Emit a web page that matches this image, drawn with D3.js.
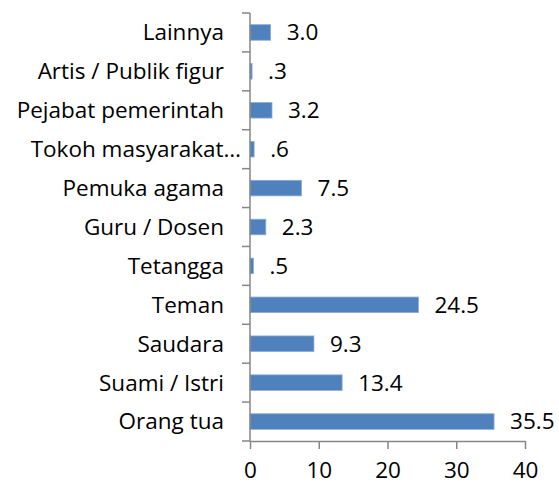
<!DOCTYPE html>
<html>
<head>
<meta charset="utf-8">
<script src="https://cdn.jsdelivr.net/npm/d3@7"></script>
<style>
  body { margin: 0; background: #fff; }
  text { font-family: "Open Sans", "Liberation Sans", sans-serif; fill: #000; }
</style>
</head>
<body>
<div id="chart"></div>
<script>
var categories = ["Lainnya", "Artis / Publik figur", "Pejabat pemerintah", "Tokoh masyarakat…",
  "Pemuka agama", "Guru / Dosen", "Tetangga", "Teman", "Saudara", "Suami / Istri", "Orang tua"];
var values = [3.0, 0.3, 3.2, 0.6, 7.5, 2.3, 0.5, 24.5, 9.3, 13.4, 35.5];
var xTicks = [0, 10, 20, 30, 40];

var width = 559, height = 486;
var plotLeft = 250, plotRight = 525, plotTop = 13, plotBottom = 441;
var fontSize = "22.5px";

var svg = d3.select("#chart").append("svg")
  .attr("width", width)
  .attr("height", height);

var x = d3.scaleLinear().domain([0, 40]).range([plotLeft, plotRight]);
var y = d3.scaleBand().domain(categories).range([plotTop, plotBottom]).padding(0);

var barH = y.bandwidth() * 0.4;
var axisColor = "#868686";

// bars
svg.selectAll("rect.bar")
  .data(values)
  .enter()
  .append("rect")
  .attr("class", "bar")
  .attr("x", x(0))
  .attr("y", function(d, i) { return y(categories[i]) + (y.bandwidth() - barH) / 2; })
  .attr("width", function(d) { return x(d) - x(0); })
  .attr("height", barH)
  .attr("fill", "#4F81BD")
  .attr("stroke", "#8EACD6")
  .attr("stroke-width", 0.8);

// value labels
function fmt(v) {
  var s = v.toFixed(1);
  if (v < 1) s = s.replace(/^0/, "");
  return s;
}
svg.selectAll("text.val")
  .data(values)
  .enter()
  .append("text")
  .attr("class", "val")
  .attr("x", function(d) { return x(d) + 16; })
  .attr("y", function(d, i) { return y(categories[i]) + y.bandwidth() / 2; })
  .attr("dy", "0.35em")
  .style("font-size", fontSize)
  .text(fmt);

// x axis
var xAxis = svg.append("g")
  .attr("transform", "translate(0," + plotBottom + ")")
  .call(d3.axisBottom(x).tickValues(xTicks).tickSize(8).tickSizeOuter(0).tickPadding(13));
xAxis.select(".domain").attr("stroke", axisColor).attr("stroke-width", 1.5);
xAxis.selectAll(".tick line").attr("stroke", axisColor).attr("stroke-width", 1.5);
xAxis.selectAll(".tick text").style("font-size", fontSize).style("font-family", "'Open Sans', sans-serif").attr("fill", "#000");

// y axis line and ticks at band boundaries
svg.append("line")
  .attr("x1", x(0)).attr("x2", x(0))
  .attr("y1", plotTop).attr("y2", plotBottom)
  .attr("stroke", axisColor).attr("stroke-width", 1.5);

var bounds = categories.map(function(c) { return y(c); }).concat([plotBottom]);
svg.selectAll("line.ytick")
  .data(bounds)
  .enter()
  .append("line")
  .attr("class", "ytick")
  .attr("x1", x(0) - 8).attr("x2", x(0))
  .attr("y1", function(d) { return d; })
  .attr("y2", function(d) { return d; })
  .attr("stroke", axisColor).attr("stroke-width", 1.5);

// category labels
svg.selectAll("text.cat")
  .data(categories)
  .enter()
  .append("text")
  .attr("class", "cat")
  .attr("x", function(d) { return d === "Tokoh masyarakat…" ? 241 : 224; })
  .attr("y", function(d) { return y(d) + y.bandwidth() / 2; })
  .attr("dy", "0.35em")
  .attr("text-anchor", "end")
  .style("font-size", fontSize)
  .text(function(d) { return d; });
</script>
</body>
</html>
